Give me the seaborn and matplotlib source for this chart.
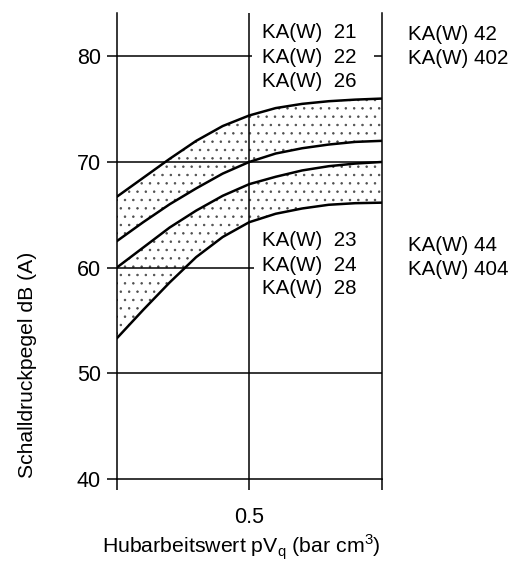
import matplotlib
matplotlib.use("Agg")
import matplotlib.pyplot as plt
import seaborn as sns
import pandas as pd

# Stroke work values pVq (bar cm3), normalised axis 0..1
pvq = [0.0, 0.1, 0.2, 0.3, 0.4, 0.5, 0.6, 0.7, 0.8, 0.9, 1.0]

# Sound pressure level curves, dB(A)
upper_band_top = [66.7, 68.5, 70.3, 72.0, 73.4, 74.4, 75.1, 75.5, 75.75, 75.9, 76.0]
upper_band_bottom = [62.5, 64.3, 66.0, 67.5, 68.9, 70.0, 70.8, 71.3, 71.65, 71.9, 72.0]
lower_band_top = [60.0, 61.9, 63.8, 65.4, 66.8, 67.9, 68.6, 69.2, 69.6, 69.85, 70.0]
lower_band_bottom = [53.3, 56.0, 58.6, 61.0, 62.9, 64.3, 65.1, 65.6, 65.95, 66.1, 66.15]

y_ticks = [40, 50, 60, 70, 80]
x_ticks = [0.0, 0.5, 1.0]
x_tick_labels = ["", "0.5", ""]

upper_models_left = ["KA(W)  21", "KA(W)  22", "KA(W)  26"]
upper_models_right = ["KA(W) 42", "KA(W) 402"]
lower_models_left = ["KA(W)  23", "KA(W)  24", "KA(W)  28"]
lower_models_right = ["KA(W) 44", "KA(W) 404"]

sns.set_theme(style="white")
plt.rcParams["font.family"] = ["Liberation Sans", "DejaVu Sans"]
plt.rcParams["hatch.linewidth"] = 0.55
plt.rcParams["text.color"] = "black"
plt.rcParams["xtick.color"] = "black"
plt.rcParams["ytick.color"] = "black"

curves = {
    "c1": upper_band_top,
    "c2": upper_band_bottom,
    "c3": lower_band_top,
    "c4": lower_band_bottom,
}
df = pd.concat(
    [pd.DataFrame({"pvq": pvq, "level": v, "curve": k}) for k, v in curves.items()],
    ignore_index=True,
)

fig = plt.figure(figsize=(5.24, 5.62), dpi=100)
ax = fig.add_axes([0.2227, 0.1477, 0.5057, 0.8292])

# Stippled bands
for top, bottom in [(upper_band_top, upper_band_bottom), (lower_band_top, lower_band_bottom)]:
    ax.fill_between(pvq, bottom, top, facecolor="none", edgecolor="#4d4d4d",
                    linewidth=0, hatch="..", zorder=1)

sns.lineplot(data=df, x="pvq", y="level", hue="curve",
             palette=["black"] * 4, linewidth=1.8, legend=False, ax=ax,
             estimator=None, sort=True, zorder=3)

ax.set_xlim(0, 1)
ax.set_ylim(40, 84.1)

# Grid lines
grid_kw = dict(color="black", linewidth=1.1, zorder=2)
ax.axvline(0.5, **grid_kw)
ax.axhline(50, **grid_kw)
ax.axhline(70, **grid_kw)
ax.hlines(80, 0, 0.51, **grid_kw)
ax.hlines(80, 0.97, 1.0, **grid_kw)
ax.hlines(60, 0, 0.52, **grid_kw)

for side in ["left", "right", "bottom"]:
    ax.spines[side].set_color("black")
    ax.spines[side].set_linewidth(1.1)
ax.spines["top"].set_visible(False)

ax.set_yticks(y_ticks)
ax.set_xticks(x_ticks)
ax.set_xticklabels(x_tick_labels)
ax.tick_params(axis="y", direction="out", length=7.5, width=1.1, color="black",
               labelcolor="black", labelsize=15.5, pad=4, left=True)
ax.tick_params(axis="x", direction="out", length=8, width=1.1, color="black",
               labelcolor="black", labelsize=15.5, pad=12, bottom=True)
ax.set_xlabel("")
ax.set_ylabel("")

# Model labels
txt_kw = dict(fontsize=14.8, color="black", va="center", ha="left", clip_on=False)
for label, y in zip(upper_models_left, [82.3, 79.9, 77.65]):
    ax.text(0.548, y, label, **txt_kw)
for label, y in zip(upper_models_right, [82.1, 79.83]):
    ax.text(1.099, y, label, **txt_kw)
for label, y in zip(lower_models_left, [62.6, 60.25, 57.98]):
    ax.text(0.548, y, label, **txt_kw)
for label, y in zip(lower_models_right, [62.14, 59.87]):
    ax.text(1.099, y, label, **txt_kw)

fig.text(241 / 524, 1 - 547 / 562,
         r"Hubarbeitswert pV$_\mathregular{q}$ (bar cm$^\mathregular{3}$)",
         fontsize=15.3, ha="center", va="center")
fig.text(28 / 524, 1 - 365 / 562, "Schalldruckpegel dB (A)",
         fontsize=15.2, ha="center", va="center", rotation=90)

fig.savefig("out.png", dpi=100, facecolor="white")
